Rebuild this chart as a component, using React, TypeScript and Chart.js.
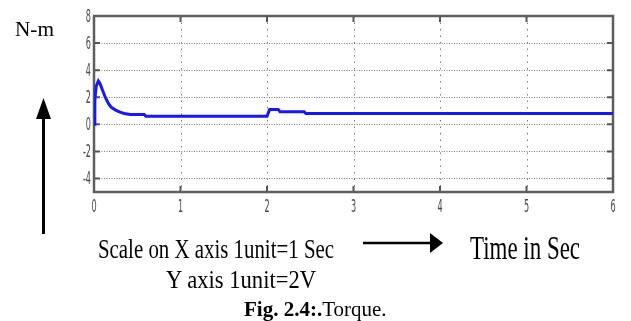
import React, { useEffect, useRef } from 'react';
import { Chart, registerables } from 'chart.js';

Chart.register(...registerables);

// ---- data ----
const timeSec = [0, 0.01, 0.025, 0.05, 0.07, 0.1, 0.13, 0.17, 0.2, 0.25, 0.3, 0.35, 0.42, 0.58, 0.6, 2.0, 2.03, 2.13, 2.15, 2.43, 2.45, 6.0];
const torqueNm = [0, 1.8, 2.8, 3.2, 3.0, 2.5, 2.0, 1.5, 1.25, 1.05, 0.9, 0.8, 0.72, 0.72, 0.6, 0.6, 1.1, 1.1, 0.92, 0.92, 0.8, 0.8];
const xTickValues = [0, 1, 2, 3, 4, 5, 6];
const yTickValues = [-4, -2, 0, 2, 4, 6, 8];
const xRange = [0, 6];
const yRange = [-5, 8];

const yUnitLabel = 'N-m';
const scaleCaption = 'Scale on X axis 1unit=1 Sec';
const yScaleCaption = 'Y axis 1unit=2V';
const timeCaption = 'Time in Sec';
const figBold = 'Fig. 2.4:.';
const figTitle = 'Torque.';

const SERIF = '"Liberation Serif", "Times New Roman", serif';
const TICK_FONT = '18px "Liberation Sans Narrow", "DejaVu Sans Condensed", "Liberation Sans", sans-serif';

function measure(text: string, font: string): number {
  const c = document.createElement('canvas').getContext('2d')!;
  c.font = font;
  return c.measureText(text).width;
}

function Label(props: { text: string; left: number; baseline: number; size: number; width: number; bold?: boolean }) {
  const { text, left, baseline, size, width, bold } = props;
  const font = `${bold ? 'bold ' : ''}${size}px ${SERIF}`;
  const s = width / measure(text, font);
  return (
    <div
      style={{
        position: 'absolute',
        left,
        top: baseline - 0.8375 * size,
        fontFamily: SERIF,
        fontSize: size,
        fontWeight: bold ? 'bold' : 'normal',
        lineHeight: `${size}px`,
        whiteSpace: 'nowrap',
        transform: `scaleX(${s})`,
        transformOrigin: '0 0',
        color: '#000',
      }}
    >
      {text}
    </div>
  );
}

const framePlugin = {
  id: 'matlabFrame',
  beforeDatasetsDraw(chart: any) {
    const { ctx, chartArea: a, scales } = chart;
    const x = scales.x;
    const y = scales.y;
    ctx.save();
    ctx.lineWidth = 1;
    ctx.strokeStyle = '#7a7a7a';
    // horizontal dotted grid
    ctx.setLineDash([1, 1.5]);
    yTickValues.forEach((v) => {
      if (v === yRange[1]) return;
      const py = Math.round(y.getPixelForValue(v)) + 0.5;
      ctx.beginPath();
      ctx.moveTo(a.left, py);
      ctx.lineTo(a.right, py);
      ctx.stroke();
    });
    // vertical dotted grid
    ctx.setLineDash([1.5, 5]);
    xTickValues.forEach((v) => {
      if (v === xRange[0] || v === xRange[1]) return;
      const px = Math.round(x.getPixelForValue(v)) + 0.5;
      ctx.beginPath();
      ctx.moveTo(px, a.top);
      ctx.lineTo(px, a.bottom);
      ctx.stroke();
    });
    ctx.setLineDash([]);
    // inside tick marks
    ctx.strokeStyle = '#555';
    ctx.lineWidth = 2;
    const tl = 6;
    yTickValues.forEach((v) => {
      const py = y.getPixelForValue(v);
      ctx.beginPath();
      ctx.moveTo(a.left, py);
      ctx.lineTo(a.left + tl, py);
      ctx.moveTo(a.right, py);
      ctx.lineTo(a.right - tl, py);
      ctx.stroke();
    });
    xTickValues.forEach((v) => {
      const px = x.getPixelForValue(v);
      ctx.beginPath();
      ctx.moveTo(px, a.top);
      ctx.lineTo(px, a.top + tl);
      ctx.moveTo(px, a.bottom);
      ctx.lineTo(px, a.bottom - tl);
      ctx.stroke();
    });
    // frame
    ctx.strokeStyle = '#5e5e5e';
    ctx.lineWidth = 2.5;
    ctx.strokeRect(a.left, a.top, a.right - a.left, a.bottom - a.top);
    // tick labels (narrow, MATLAB export look)
    ctx.fillStyle = '#4a4a4a';
    ctx.font = TICK_FONT;
    ctx.textAlign = 'right';
    ctx.textBaseline = 'middle';
    yTickValues.forEach((v) => {
      ctx.save();
      ctx.translate(a.left - 3, y.getPixelForValue(v) + 1);
      ctx.scale(0.5, 1);
      ctx.fillText(String(v), 0, 0);
      ctx.restore();
    });
    ctx.textAlign = 'center';
    xTickValues.forEach((v) => {
      ctx.save();
      ctx.translate(x.getPixelForValue(v), a.bottom + 15);
      ctx.scale(0.5, 1);
      ctx.fillText(String(v), 0, 0);
      ctx.restore();
    });
    ctx.restore();
  },
};

export default function App() {
  const canvasRef = useRef<HTMLCanvasElement | null>(null);

  useEffect(() => {
    const canvas = canvasRef.current;
    if (!canvas) return;
    const chart = new Chart(canvas, {
      type: 'line',
      data: {
        datasets: [
          {
            data: timeSec.map((t, i) => ({ x: t, y: torqueNm[i] })),
            borderColor: '#1717ff',
            borderWidth: 3,
            pointRadius: 0,
            tension: 0,
            fill: false,
          },
        ],
      },
      options: {
        animation: false,
        responsive: false,
        devicePixelRatio: 1,
        layout: { padding: { left: 0, right: 18, top: 16, bottom: 104 } },
        plugins: { legend: { display: false }, tooltip: { enabled: false } },
        scales: {
          x: {
            type: 'linear',
            min: xRange[0],
            max: xRange[1],
            grid: { display: false },
            border: { display: false },
            ticks: { display: false },
            afterFit: (s: any) => {
              s.height = 25;
            },
          },
          y: {
            type: 'linear',
            min: yRange[0],
            max: yRange[1],
            grid: { display: false },
            border: { display: false },
            ticks: { display: false },
            afterFit: (s: any) => {
              s.width = 94;
            },
          },
        },
      },
      plugins: [framePlugin],
    });
    return () => chart.destroy();
  }, []);

  return (
    <div style={{ position: 'absolute', left: 0, top: 0, width: 631, height: 321, background: '#fff', overflow: 'hidden' }}>
      <canvas ref={canvasRef} width={631} height={321} style={{ position: 'absolute', left: 0, top: 0 }} />
      <svg width={631} height={321} style={{ position: 'absolute', left: 0, top: 0 }}>
        <line x1={43.5} y1={234} x2={43.5} y2={116} stroke="#000" strokeWidth={3} />
        <polygon points="36,119 51,119 43.5,98" fill="#000" />
        <line x1={363} y1={243} x2={432} y2={243} stroke="#000" strokeWidth={2.5} />
        <polygon points="430,233 430,253 443,243" fill="#000" />
      </svg>
      <Label text={yUnitLabel} left={15} baseline={36} size={22} width={39} />
      <Label text={scaleCaption} left={98} baseline={258.5} size={27} width={236} />
      <Label text={timeCaption} left={470} baseline={260} size={33} width={110} />
      <Label text={yScaleCaption} left={166} baseline={289} size={26} width={151} />
      <div style={{ position: 'absolute', left: 244, top: 316.5 - 0.8375 * 21, fontFamily: SERIF, fontSize: 21, lineHeight: '21px', whiteSpace: 'nowrap', color: '#000' }}>
        <b>{figBold}</b>
        {figTitle}
      </div>
    </div>
  );
}
